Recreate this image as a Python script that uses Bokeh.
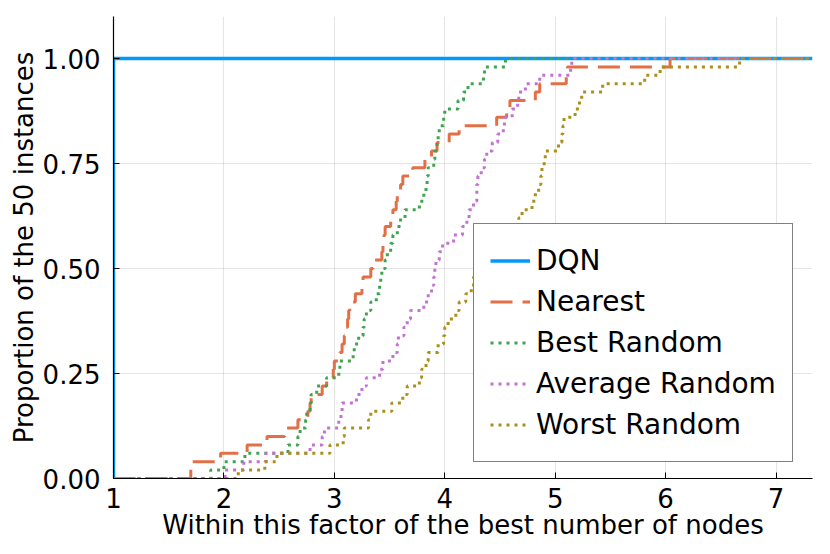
from bokeh.plotting import figure
from bokeh.models import FixedTicker, Legend, LegendItem, Range1d
from bokeh.embed import file_html
from bokeh.resources import INLINE

# ---------------- data ----------------
x_ticks = [1, 2, 3, 4, 5, 6, 7]
y_ticks = [0.0, 0.25, 0.5, 0.75, 1.0]
y_tick_labels = ["0.00", "0.25", "0.50", "0.75", "1.00"]

series_names = ["DQN", "Nearest", "Best Random", "Average Random", "Worst Random"]

# sorted "factor of the best number of nodes" per instance (50 instances)
dqn = [1.00, 1.00, 1.00, 1.00, 1.00, 1.00, 1.00, 1.00, 1.00, 1.00,
       1.00, 1.00, 1.00, 1.00, 1.00, 1.00, 1.00, 1.00, 1.00, 1.00,
       1.00, 1.00, 1.00, 1.00, 1.00, 1.00, 1.00, 1.00, 1.00, 1.00,
       1.00, 1.00, 1.00, 1.00, 1.00, 1.00, 1.00, 1.00, 1.00, 1.00,
       1.00, 1.00, 1.00, 1.00, 1.00, 1.00, 1.00, 1.00, 1.00, 1.00]

nearest = [1.70, 1.70, 1.97, 2.21, 2.39, 2.55, 2.67, 2.76, 2.78, 2.79,
           2.89, 2.93, 2.99, 3.00, 3.05, 3.07, 3.09, 3.10, 3.12, 3.13,
           3.14, 3.19, 3.25, 3.26, 3.33, 3.35, 3.43, 3.44, 3.45, 3.46,
           3.51, 3.53, 3.56, 3.57, 3.60, 3.62, 3.71, 3.82, 3.88, 3.93,
           4.04, 4.13, 4.47, 4.56, 4.59, 4.82, 4.86, 5.10, 5.11, 6.04]

best_random = [1.88, 2.00, 2.19, 2.58, 2.67, 2.69, 2.74, 2.75, 2.78, 2.79,
               2.84, 2.93, 3.04, 3.05, 3.17, 3.18, 3.22, 3.26, 3.27, 3.29,
               3.33, 3.38, 3.41, 3.42, 3.43, 3.46, 3.48, 3.51, 3.53, 3.57,
               3.60, 3.64, 3.77, 3.81, 3.83, 3.84, 3.85, 3.90, 3.91, 3.93,
               3.94, 3.95, 3.99, 4.00, 4.12, 4.17, 4.21, 4.35, 4.36, 4.55]

average_random = [2.01, 2.18, 2.38, 2.78, 2.89, 2.91, 3.04, 3.06, 3.07, 3.20,
                  3.25, 3.29, 3.41, 3.44, 3.53, 3.57, 3.58, 3.63, 3.66, 3.69,
                  3.81, 3.85, 3.88, 3.90, 3.91, 3.92, 3.95, 3.98, 4.08, 4.16,
                  4.20, 4.22, 4.26, 4.29, 4.29, 4.30, 4.33, 4.36, 4.38, 4.43,
                  4.48, 4.53, 4.54, 4.61, 4.66, 4.67, 4.73, 4.86, 5.14, 5.15]

worst_random = [2.13, 2.37, 2.48, 2.96, 3.08, 3.09, 3.31, 3.33, 3.52, 3.62,
                3.66, 3.77, 3.79, 3.83, 3.85, 3.94, 3.99, 4.00, 4.03, 4.10,
                4.13, 4.19, 4.24, 4.26, 4.29, 4.32, 4.38, 4.43, 4.50, 4.56,
                4.67, 4.70, 4.79, 4.82, 4.85, 4.87, 4.88, 4.90, 4.91, 5.03,
                5.06, 5.07, 5.08, 5.18, 5.22, 5.24, 5.43, 5.81, 5.95, 6.67]

x_label = "Within this factor of the best number of nodes"
y_label = "Proportion of the 50 instances"

x_start, x_end = 1.0, 7.33
y_start, y_end = 0.0, 1.1

# ---------------- styles ----------------
colors = ["#009AFA", "#E36F47", "#3EA44E", "#C371D2", "#AC8E18"]
dashes = ["solid", "22 10", "3 5", "3 5", "3 5"]
widths = [3.5, 3.0, 3.0, 3.0, 3.0]
FONT = "DejaVu Sans"

W, H = 822, 546
BL, BR, BT, BB = 113, 10, 16, 68

p = figure(width=W, height=H, output_backend="svg", toolbar_location=None,
           x_range=Range1d(x_start, x_end), y_range=Range1d(y_start, y_end),
           min_border_left=BL, min_border_right=BR, min_border_top=BT,
           min_border_bottom=BB)
p.outline_line_color = None
p.background_fill_color = "white"
p.border_fill_color = "white"

renderers = []
all_series = [dqn, nearest, best_random, average_random, worst_random]
n = len(dqn)
for vals, col, dash, lw in zip(all_series, colors, dashes, widths):
    xs = [x_start] + list(vals) + [x_end]
    ys = [0.0] + [(i + 1) / n for i in range(len(vals))] + [1.0]
    r = p.step(xs, ys, mode="after", line_color=col, line_width=lw,
               line_dash=dash, line_cap="butt")
    renderers.append(r)

# axes
for ax in (p.xaxis, p.yaxis):
    ax.major_tick_in = 6
    ax.major_tick_out = 0
    ax.minor_tick_line_color = None
    ax.axis_line_color = "black"
    ax.axis_line_width = 1.2
    ax.major_tick_line_color = "black"
    ax.major_label_text_font = FONT
    ax.major_label_text_font_size = "26px"
    ax.major_label_text_color = "black"
    ax.axis_label_text_font = FONT
    ax.axis_label_text_font_size = "26px"
    ax.axis_label_text_font_style = "normal"
    ax.axis_label_text_color = "black"

p.xaxis.ticker = FixedTicker(ticks=x_ticks)
p.yaxis.ticker = FixedTicker(ticks=y_ticks)
p.yaxis.major_label_overrides = {t: l for t, l in zip(y_ticks, y_tick_labels)}
p.xaxis.axis_label = x_label
p.yaxis.axis_label = y_label
p.xaxis.major_label_standoff = 9
p.xaxis.axis_label_standoff = -1
p.yaxis.major_label_standoff = 13
p.yaxis.axis_label_standoff = 1

p.grid.grid_line_color = "black"
p.grid.grid_line_alpha = 0.1
p.grid.grid_line_width = 1
p.xgrid.ticker = FixedTicker(ticks=x_ticks)
p.ygrid.ticker = FixedTicker(ticks=y_ticks)

legend = Legend(items=[LegendItem(label=nm, renderers=[r]) for nm, r in zip(series_names, renderers)],
                location=(360, 16))
legend.padding = 16
legend.spacing = 0
legend.margin = 0
legend.label_height = 41
legend.glyph_height = 41
legend.glyph_width = 40
legend.label_standoff = 6
legend.label_text_font = FONT
legend.label_text_font_size = "28px"
legend.label_text_color = "black"
legend.border_line_color = "black"
legend.border_line_width = 1.5
legend.background_fill_color = "white"
legend.background_fill_alpha = 1.0
p.add_layout(legend)

open("out.html", "w").write(file_html(p, INLINE))
